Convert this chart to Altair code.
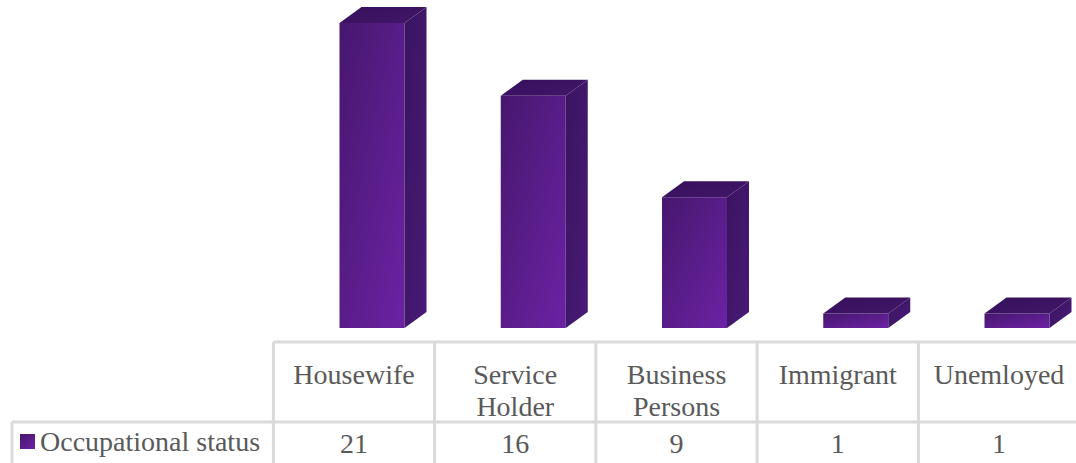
import altair as alt
import pandas as pd

# Chart content
categories = ["Housewife", "Service\nHolder", "Business\nPersons", "Immigrant", "Unemloyed"]
counts = [21, 16, 9, 1, 1]
series_name = "Occupational status"

W, H = 1076, 463
CELL = 161.25            # table column width in pixels
FIRST_CENTRE = 354       # centre of the first column in pixels
BASE = 328               # pixel row of the zero line
UNIT = 14.52             # pixels per person

x_scale = alt.Scale(domain=[-FIRST_CENTRE / CELL, (W - FIRST_CENTRE) / CELL], range=[0, W], nice=False, zero=False)
y_scale = alt.Scale(domain=[-(H - BASE) / UNIT, BASE / UNIT], range=[H, 0], nice=False, zero=False)

# Box proportions, expressed in scale units
BOX_SHIFT = 18 / CELL
BOX_WIDTH = 65 / CELL
DEPTH_X = 22 / CELL
DEPTH_Y = 16 / UNIT

front_rows, side_rows, top_rows = [], [], []
for i, (cat, v) in enumerate(zip(categories, counts)):
    x0 = i + BOX_SHIFT - BOX_WIDTH / 2
    x1 = x0 + BOX_WIDTH
    front_rows.append(dict(cat=cat, x0=x0, x1=x1, y0=0, y1=v))
    side_rows += [
        dict(cat=cat, x=x1, y=v, y2=0),
        dict(cat=cat, x=x1 + DEPTH_X, y=v + DEPTH_Y, y2=DEPTH_Y),
    ]
    top_rows += [
        dict(cat=cat, x=x0, y=v, y2=v),
        dict(cat=cat, x=x0 + DEPTH_X, y=v + DEPTH_Y, y2=v),
        dict(cat=cat, x=x1, y=v + DEPTH_Y, y2=v),
        dict(cat=cat, x=x1 + DEPTH_X, y=v + DEPTH_Y, y2=v + DEPTH_Y),
    ]


def diagonal(start, end):
    return alt.Gradient(
        gradient="linear", x1=0, y1=0, x2=1, y2=1,
        stops=[alt.GradientStop(offset=0, color=start), alt.GradientStop(offset=1, color=end)],
    )


X = lambda f: alt.X(f, scale=x_scale, axis=None)
Y = lambda f: alt.Y(f, scale=y_scale, axis=None)

front = alt.Chart(pd.DataFrame(front_rows)).mark_rect(color=diagonal("#46176e", "#6c22a4")).encode(
    x=X("x0:Q"), x2="x1:Q", y=Y("y0:Q"), y2="y1:Q"
)
side = alt.Chart(pd.DataFrame(side_rows)).mark_area(color=diagonal("#3a1461", "#481a75")).encode(
    x=X("x:Q"), y=Y("y:Q"), y2="y2:Q", detail="cat:N"
)
top = alt.Chart(pd.DataFrame(top_rows)).mark_area(color=diagonal("#35105c", "#421669")).encode(
    x=X("x:Q"), y=Y("y:Q"), y2="y2:Q", detail="cat:N"
)

# Data table under the bars
GRID = "#dadada"
edges = pd.DataFrame({"edge": [i - 0.5 for i in range(len(categories))]})
columns = alt.Chart(edges).mark_rule(color=GRID, strokeWidth=3).encode(
    x=X("edge:Q"), y=alt.value(342), y2=alt.value(H)
)
head_line = alt.Chart(edges.head(1)).mark_rule(color=GRID, strokeWidth=3).encode(
    x=X("edge:Q"), x2=alt.value(W), y=alt.value(342)
)
row_line = alt.Chart(edges.head(1)).mark_rule(color=GRID, strokeWidth=3).encode(
    x=alt.value(12), x2=alt.value(W), y=alt.value(422)
)
legend_edge = alt.Chart(edges.head(1)).mark_rule(color=GRID, strokeWidth=3).encode(
    x=alt.value(12), y=alt.value(422), y2=alt.value(H)
)

table = pd.DataFrame({"i": range(len(categories)), "cat": categories, "n": counts})
TEXT = dict(font="Liberation Serif", fontSize=28, color="#595959")
cat_text = alt.Chart(table).mark_text(align="center", baseline="top", lineBreak="\n", lineHeight=32, **TEXT).encode(
    x=X("i:Q"), y=alt.value(362), text="cat:N"
)
num_text = alt.Chart(table).mark_text(align="center", baseline="middle", **TEXT).encode(
    x=X("i:Q"), y=alt.value(445), text="n:Q"
)
swatch = alt.Chart(pd.DataFrame({"s": [series_name]})).mark_square(
    size=225, color=diagonal("#46176e", "#6c22a4"), opacity=1
).encode(x=alt.value(27.5), y=alt.value(441.5))
legend_text = alt.Chart(pd.DataFrame({"s": [series_name]})).mark_text(align="left", baseline="middle", **TEXT).encode(
    x=alt.value(40), y=alt.value(443), text="s:N"
)

chart = alt.layer(
    front, side, top, columns, head_line, row_line, legend_edge, cat_text, num_text, swatch, legend_text
).properties(
    width=W, height=H, padding=0, background="white", autosize=alt.AutoSizeParams(type="none")
).configure_view(stroke=None)

chart.save("out.html", embed_options={"renderer": "svg", "actions": False})
